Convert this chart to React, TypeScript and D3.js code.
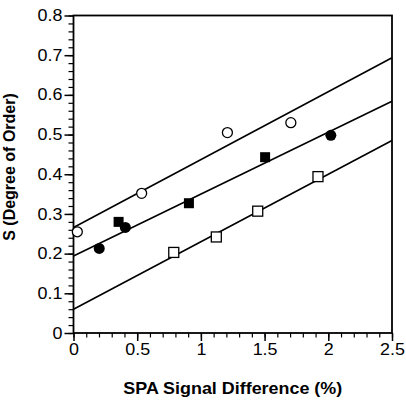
import React, { useEffect, useRef } from 'react'
import * as d3 from 'd3'

// data
const openCircleX = [0.03, 0.535, 1.208, 1.706]
const openCircleY = [0.255, 0.352, 0.505, 0.53]
const filledCircleX = [0.202, 0.407, 2.02]
const filledCircleY = [0.213, 0.266, 0.498]
const filledSquareX = [0.354, 0.906, 1.504]
const filledSquareY = [0.28, 0.327, 0.443]
const openSquareX = [0.787, 1.121, 1.446, 1.919]
const openSquareY = [0.203, 0.242, 0.307, 0.394]

// fitted lines: S = a + b*x
const fitIntercepts = [0.266, 0.194, 0.06]
const fitSlopes = [0.171, 0.156, 0.17]

const xTicks = [0, 0.5, 1, 1.5, 2, 2.5]
const yTicks = [0, 0.1, 0.2, 0.3, 0.4, 0.5, 0.6, 0.7, 0.8]
const xTitle = 'SPA Signal Difference (%)'
const yTitle = 'S (Degree of Order)'

const W = 406, H = 400
const margin = { top: 15.5, right: 14, bottom: 67, left: 73.5 }
const FONT = '"Liberation Sans", Arial, Helvetica, sans-serif'
const STRETCH = 1.12 // the scanned figure's text is a bit wide

export default function App() {
  const ref = useRef<SVGSVGElement>(null)

  useEffect(() => {
    const svg = d3.select(ref.current)
    svg.selectAll('*').remove()
    const w = W - margin.left - margin.right
    const h = H - margin.top - margin.bottom

    const x = d3.scaleLinear().domain([0, 2.5]).range([0, w])
    const y = d3.scaleLinear().domain([0, 0.8]).range([h, 0])

    const g = svg.append('g').attr('transform', `translate(${margin.left},${margin.top})`)

    // minor ticks
    const xMinor = d3.range(0, 2.51, 0.1)
    const yMinor = d3.range(0, 0.801, 0.02)
    g.append('g').attr('transform', `translate(0,${h})`)
      .call(d3.axisBottom(x).tickValues(xMinor).tickSize(4.5).tickFormat(() => ''))
      .call(a => a.select('.domain').remove())
      .selectAll('line').attr('stroke', '#000').attr('stroke-width', 1.2)
    g.append('g')
      .call(d3.axisLeft(y).tickValues(yMinor).tickSize(5).tickFormat(() => ''))
      .call(a => a.select('.domain').remove())
      .selectAll('line').attr('stroke', '#000').attr('stroke-width', 1.2)

    // major axes
    const xAxis = g.append('g').attr('transform', `translate(0,${h})`)
      .call(d3.axisBottom(x).tickValues(xTicks).tickSize(8).tickPadding(3)
        .tickFormat(d => d3.format('')(d as number)))
    xAxis.select('.domain').remove()
    xAxis.selectAll('line').attr('stroke', '#000').attr('stroke-width', 1.5)
    xAxis.selectAll('text').attr('font-family', FONT).attr('font-size', 16).attr('fill', '#000')
      .attr('transform', `scale(${STRETCH},1)`)

    const yAxis = g.append('g')
      .call(d3.axisLeft(y).tickValues(yTicks).tickSize(9).tickPadding(2)
        .tickFormat(d => d3.format('')(d as number)))
    yAxis.select('.domain').remove()
    yAxis.selectAll('line').attr('stroke', '#000').attr('stroke-width', 1.5)
    yAxis.selectAll('text').attr('font-family', FONT).attr('font-size', 16).attr('fill', '#000')
      .attr('x', -11 / STRETCH).attr('transform', `scale(${STRETCH},1)`)

    // frame
    g.append('rect').attr('width', w).attr('height', h)
      .attr('fill', 'none').attr('stroke', '#000').attr('stroke-width', 1.8)

    // fit lines
    g.selectAll('.fit').data(fitIntercepts).join('line').attr('class', 'fit')
      .attr('x1', x(0)).attr('x2', x(2.5))
      .attr('y1', d => y(d))
      .attr('y2', (d, i) => y(d + fitSlopes[i] * 2.5))
      .attr('stroke', '#000').attr('stroke-width', 1.6)

    // markers
    const pts = (xs: number[], ys: number[]) => xs.map((v, i) => [v, ys[i]])
    g.selectAll('.oc').data(pts(openCircleX, openCircleY)).join('circle').attr('class', 'oc')
      .attr('cx', d => x(d[0])).attr('cy', d => y(d[1])).attr('r', 5)
      .attr('fill', '#fff').attr('stroke', '#000').attr('stroke-width', 1.3)
    g.selectAll('.fc').data(pts(filledCircleX, filledCircleY)).join('circle').attr('class', 'fc')
      .attr('cx', d => x(d[0])).attr('cy', d => y(d[1])).attr('r', 5.5)
      .attr('fill', '#000')
    const s = 10
    g.selectAll('.fs').data(pts(filledSquareX, filledSquareY)).join('rect').attr('class', 'fs')
      .attr('x', d => x(d[0]) - s / 2).attr('y', d => y(d[1]) - s / 2)
      .attr('width', s).attr('height', s).attr('fill', '#000')
    g.selectAll('.os').data(pts(openSquareX, openSquareY)).join('rect').attr('class', 'os')
      .attr('x', d => x(d[0]) - s / 2).attr('y', d => y(d[1]) - s / 2)
      .attr('width', s).attr('height', s)
      .attr('fill', '#fff').attr('stroke', '#000').attr('stroke-width', 1.3)

    // titles
    svg.append('text')
      .attr('transform', `translate(${margin.left + w / 2},393.5) scale(${STRETCH},1)`)
      .attr('text-anchor', 'middle')
      .attr('font-family', FONT).attr('font-weight', 'bold').attr('font-size', 16)
      .text(xTitle)
    svg.append('text')
      .attr('transform', `translate(15,167) rotate(-90)`)
      .attr('text-anchor', 'middle')
      .attr('font-family', FONT).attr('font-weight', 'bold').attr('font-size', 16)
      .text(yTitle)
  }, [])

  return (
    <svg ref={ref} width={W} height={H}
      style={{ position: 'absolute', left: 0, top: 0, background: '#fff' }} />
  )
}
